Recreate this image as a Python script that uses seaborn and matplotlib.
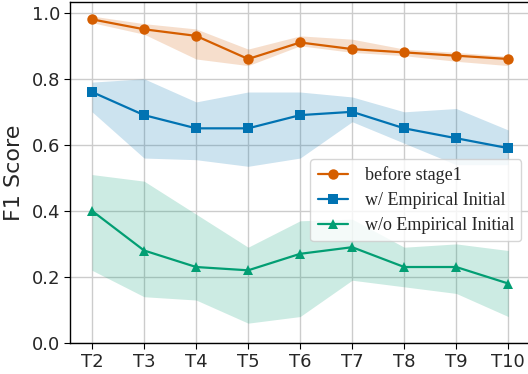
import numpy as np
import pandas as pd
import matplotlib
matplotlib.use("Agg")
import matplotlib.pyplot as plt
import seaborn as sns

# data
tasks = ["T2", "T3", "T4", "T5", "T6", "T7", "T8", "T9", "T10"]

before_mean = [0.98, 0.95, 0.93, 0.86, 0.91, 0.89, 0.88, 0.87, 0.86]
before_low = [0.97, 0.935, 0.86, 0.84, 0.90, 0.88, 0.87, 0.853, 0.84]
before_high = [0.99, 0.967, 0.951, 0.89, 0.93, 0.92, 0.89, 0.88, 0.868]

emp_mean = [0.76, 0.69, 0.65, 0.65, 0.69, 0.70, 0.65, 0.62, 0.59]
emp_low = [0.70, 0.56, 0.555, 0.535, 0.56, 0.67, 0.605, 0.54, 0.54]
emp_high = [0.79, 0.80, 0.73, 0.76, 0.76, 0.745, 0.70, 0.71, 0.645]

noemp_mean = [0.40, 0.28, 0.23, 0.22, 0.27, 0.29, 0.23, 0.23, 0.18]
noemp_low = [0.22, 0.14, 0.13, 0.06, 0.08, 0.19, 0.17, 0.15, 0.08]
noemp_high = [0.51, 0.49, 0.39, 0.29, 0.37, 0.375, 0.29, 0.30, 0.28]

labels = ["before stage1", "w/ Empirical Initial", "w/o Empirical Initial"]

sns.set_style("whitegrid")
pal = sns.color_palette("colorblind")
colors = [pal[3], pal[0], pal[2]]
markers = ["o", "s", "^"]

x = np.arange(len(tasks))
fig, ax = plt.subplots(figsize=(5.28, 3.74), dpi=100)
fig.subplots_adjust(left=0.133, right=1.0, bottom=0.083, top=0.995)

series = [(before_mean, before_low, before_high),
          (emp_mean, emp_low, emp_high),
          (noemp_mean, noemp_low, noemp_high)]

for (m, lo, hi), lab, c, mk in zip(series, labels, colors, markers):
    df = pd.DataFrame({"x": x, "y": m})
    ax.fill_between(x, lo, hi, color=c, alpha=0.2, linewidth=0)
    sns.lineplot(data=df, x="x", y="y", ax=ax, color=c, marker=mk,
                 markersize=7.5, markeredgewidth=0, linewidth=1.6, label=lab)

ax.set_xticks(x)
ax.set_xticklabels(tasks, fontsize=13)
ax.set_yticks([0.0, 0.2, 0.4, 0.6, 0.8, 1.0])
ax.set_yticklabels(["0.0", "0.2", "0.4", "0.6", "0.8", "1.0"], fontsize=13)
ax.set_xlim(-0.42, 8.38)
ax.set_ylim(0, 1.033)
ax.set_xlabel("")
ax.set_ylabel("F1 Score", fontsize=16, labelpad=6)

ax.grid(True, color="#cccccc", linewidth=1)
for s in ["left", "bottom", "top"]:
    ax.spines[s].set_color("black")
    ax.spines[s].set_linewidth(1)
ax.spines["right"].set_visible(False)
ax.tick_params(axis="both", which="both", length=4, color="black",
               bottom=True, left=True, pad=3)

ax.legend(loc="upper right", bbox_to_anchor=(1.005, 0.566), handlelength=1.7,
          prop={"family": "Liberation Serif", "size": 13},
          framealpha=0.8, borderpad=0.4, labelspacing=0.45, handletextpad=0.9)

plt.savefig("out.png", dpi=100)
